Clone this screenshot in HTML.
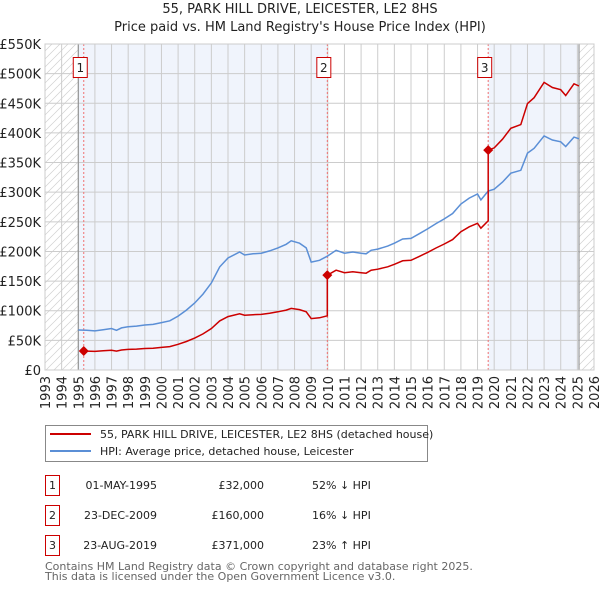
<!DOCTYPE html>
<html><head><meta charset="utf-8">
<style>
body{margin:0;background:#fff;font-family:"DejaVu Sans","Liberation Sans",sans-serif;}
#wrap{position:relative;width:600px;height:590px;overflow:hidden;}
svg text{font-family:"DejaVu Sans","Liberation Sans",sans-serif;}
</style></head>
<body>
<div id="wrap">
<svg id="chart" width="600" height="590"></svg>
</div>
<script>
const yTicks=[0,50,100,150,200,250,300,350,400,450,500,550];
const yTickLabels=["£0","£50K","£100K","£150K","£200K","£250K","£300K","£350K","£400K","£450K","£500K","£550K"];
const xYears=[1993,1994,1995,1996,1997,1998,1999,2000,2001,2002,2003,2004,2005,2006,2007,2008,2009,2010,2011,2012,2013,2014,2015,2016,2017,2018,2019,2020,2021,2022,2023,2024,2025,2026];
const hpiDates=[1995.0,1995.5,1996,1996.5,1997,1997.3,1997.6,1998,1998.5,1999,1999.5,2000,2000.5,2001,2001.5,2002,2002.5,2003,2003.5,2004,2004.7,2005,2005.5,2006,2006.5,2007,2007.5,2007.8,2008.3,2008.7,2009.0,2009.5,2009.97,2010.5,2011,2011.5,2012,2012.3,2012.6,2013,2013.6,2014,2014.5,2015,2015.5,2016,2016.5,2017,2017.5,2018,2018.5,2019,2019.2,2019.64,2020,2020.5,2021,2021.6,2022,2022.4,2023,2023.5,2024,2024.3,2024.8,2025.1];
const hpiValues=[67.5,67,66,68,70,67,71,73,74,76,77,80,83,91,101,113,128,147,174,189,199,194,196,197,201,206,212,218,214,206,182,185,192,202,197,199,197,196,202,204,209,214,221,222,230,238,247,255,264,280,290,297,287,302,305,317,332,337,366,374,395,388,385,377,393,390];
const saleDates=[1995.33,2009.97,2019.64];
const salePrices=[32,160,371];
const saleLabels=["1","2","3"];

const L=45,R=594,T=44,B=370;
const X=y=>L+(y-1993)*(R-L)/33;
const Y=v=>B-(v/550)*(B-T);
const NS="http://www.w3.org/2000/svg";
const svg=document.getElementById('chart');
function mk(tag,attrs,parent){const e=document.createElementNS(NS,tag);for(const k in attrs)e.setAttribute(k,attrs[k]);(parent||svg).appendChild(e);return e;}
function hpiAt(d){for(let i=0;i<hpiDates.length-1;i++){if(d>=hpiDates[i]&&d<=hpiDates[i+1]){const t=(d-hpiDates[i])/(hpiDates[i+1]-hpiDates[i]);return hpiValues[i]+t*(hpiValues[i+1]-hpiValues[i]);}}return hpiValues[hpiValues.length-1];}

const defs=mk('defs',{});
const pat=mk('pattern',{id:'hatch',patternUnits:'userSpaceOnUse',width:8,height:8},defs);
mk('path',{d:'M0,8 L8,0 M-2,2 L2,-2 M6,10 L10,6',stroke:'#d0d0d0','stroke-width':0.7},pat);

let t=mk('text',{x:300,y:13,'text-anchor':'middle','font-size':13,fill:'#222'});t.textContent="55, PARK HILL DRIVE, LEICESTER, LE2 8HS";

t=mk('text',{x:300,y:31,'text-anchor':'middle','font-size':13,fill:'#222'});t.textContent="Price paid vs. HM Land Registry's House Price Index (HPI)";


let r=mk('rect',{x:X(1995),y:T,width:X(saleDates[1])-X(1995),height:B-T,fill:'#f0f4fc'});

r=mk('rect',{x:X(saleDates[2]),y:T,width:X(2025.1)-X(saleDates[2]),height:B-T,fill:'#f0f4fc'});

r=mk('rect',{x:L,y:T,width:X(1995)-L,height:B-T,fill:'url(#hatch)'});

r=mk('rect',{x:X(2025.1),y:T,width:R-X(2025.1),height:B-T,fill:'url(#hatch)'});


yTicks.forEach((v,i)=>{
  const g=mk('line',{x1:L,x2:R,y1:Y(v),y2:Y(v),stroke:'#cccccc','stroke-width':1});
  
  const tx=mk('text',{x:41,y:Y(v)+5,'text-anchor':'end','font-size':13,fill:'#222'});tx.textContent=yTickLabels[i];
  
});
xYears.forEach(yr=>{
  const g=mk('line',{x1:X(yr),x2:X(yr),y1:T,y2:B,stroke:'#cccccc','stroke-width':1});
  
  const tx=mk('text',{x:0,y:0,'text-anchor':'end','font-size':13,fill:'#222',transform:`translate(${X(yr)+5},376) rotate(-90)`});tx.textContent=yr;
  
});
let ln=mk('line',{x1:X(1995),x2:X(1995),y1:T,y2:B,stroke:'#888','stroke-width':1});

ln=mk('line',{x1:X(2025.1),x2:X(2025.1),y1:T,y2:B,stroke:'#888','stroke-width':1});


saleDates.forEach((d,i)=>{
  const l=mk('line',{x1:X(d),x2:X(d),y1:T,y2:B,stroke:'#f07070','stroke-width':1,'stroke-dasharray':'2,2'});
  
  const bx=mk('rect',{x:X(d)-10.5,y:57.5,width:14,height:20,fill:'#fff',stroke:'#cc0000','stroke-width':1});
  
  const tx=mk('text',{x:X(d)-3.5,y:72,'text-anchor':'middle','font-size':12,fill:'#222'});tx.textContent=saleLabels[i];
  
});

let pts=hpiDates.map((d,i)=>X(d).toFixed(1)+','+Y(hpiValues[i]).toFixed(1)).join(' ');
let pl=mk('polyline',{points:pts,fill:'none',stroke:'#5b8fd6','stroke-width':1.5});


let rp=[];
saleDates.forEach((d,i)=>{
  const end=i<saleDates.length-1?saleDates[i+1]:2025.1;
  const ratio=salePrices[i]/hpiAt(d);
  if(i>0) rp.push([d,salePrices[i-1]/hpiAt(saleDates[i-1])*hpiAt(d)]);
  rp.push([d,salePrices[i]]);
  hpiDates.forEach((hd,j)=>{if(hd>d&&hd<end)rp.push([hd,hpiValues[j]*ratio]);});
  if(i===saleDates.length-1) rp.push([end,hpiAt(end)*ratio]);
});
pl=mk('polyline',{points:rp.map(p=>X(p[0]).toFixed(1)+','+Y(p[1]).toFixed(1)).join(' '),fill:'none',stroke:'#cc0000','stroke-width':1.5});

saleDates.forEach((d,i)=>{
  const c=mk('path',{d:`M${X(d)},${Y(salePrices[i])-5} l5,5 l-5,5 l-5,-5 z`,fill:'#cc0000'});
  
});

r=mk('rect',{x:L,y:T,width:R-L,height:B-T,fill:'none',stroke:'#cccccc','stroke-width':1});


const lg=mk('g',{});
mk('rect',{x:45.5,y:425.5,width:382,height:36,fill:'#fff',stroke:'#888','stroke-width':1},lg);
let e=mk('line',{x1:50,x2:91,y1:434,y2:434,stroke:'#cc0000','stroke-width':2},lg);

e=mk('text',{x:100,y:438,'font-size':11,fill:'#222'},lg);e.textContent="55, PARK HILL DRIVE, LEICESTER, LE2 8HS (detached house)";

e=mk('line',{x1:50,x2:91,y1:451,y2:451,stroke:'#5b8fd6','stroke-width':2},lg);

e=mk('text',{x:100,y:455,'font-size':11,fill:'#222'},lg);e.textContent="HPI: Average price, detached house, Leicester";


const rows=[["1","01-MAY-1995","£32,000","52% ↓ HPI"],["2","23-DEC-2009","£160,000","16% ↓ HPI"],["3","23-AUG-2019","£371,000","23% ↑ HPI"]];
rows.forEach((row,i)=>{
  const y=476+i*30;
  const g=mk('g',{});
  mk('rect',{x:45.5,y:y-0.5,width:14,height:20,fill:'#fff',stroke:'#cc0000','stroke-width':1},g);
  let a=mk('text',{x:52.5,y:y+13,'text-anchor':'middle','font-size':11,fill:'#222'},g);a.textContent=row[0];
  a=mk('text',{x:157,y:y+13,'text-anchor':'end','font-size':11,fill:'#222'},g);a.textContent=row[1];
  a=mk('text',{x:264,y:y+13,'text-anchor':'end','font-size':11,fill:'#222'},g);a.textContent=row[2];
  a=mk('text',{x:312,y:y+13,'font-size':11,fill:'#222'},g);a.textContent=row[3];
});
e=mk('text',{x:45,y:570,'font-size':11,fill:'#666'});e.textContent="Contains HM Land Registry data © Crown copyright and database right 2025.";

e=mk('text',{x:45,y:580,'font-size':11,fill:'#666'});e.textContent="This data is licensed under the Open Government Licence v3.0.";

</script>
</body></html>
